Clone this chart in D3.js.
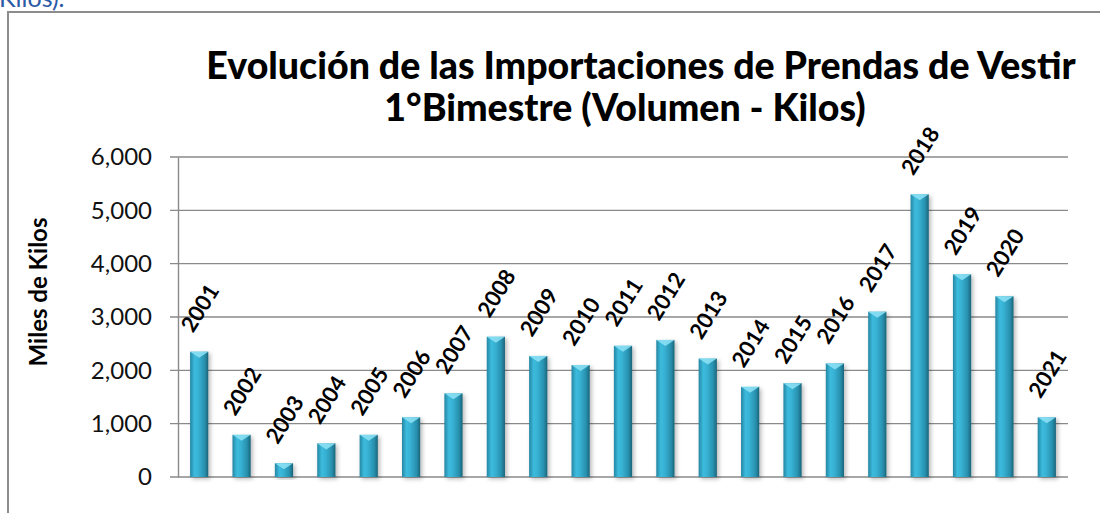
<!DOCTYPE html>
<html>
<head>
<meta charset="utf-8">
<script src="https://cdn.jsdelivr.net/npm/d3@7"></script>
<style>
  body { margin: 0; background: #fff; }
  svg { display: block; font-family: Lato, "Open Sans", sans-serif; }
</style>
</head>
<body>
<div id="chart"></div>
<script>
var YEARS = ["2001", "2002", "2003", "2004", "2005", "2006", "2007", "2008", "2009", "2010", "2011",
  "2012", "2013", "2014", "2015", "2016", "2017", "2018", "2019", "2020", "2021"];
var KILOS = [2350, 790, 260, 630, 790, 1120, 1570, 2630, 2270, 2100, 2460,
  2570, 2220, 1690, 1760, 2130, 3100, 5300, 3800, 3390, 1120];
var Y_TICKS = [0, 1000, 2000, 3000, 4000, 5000, 6000];
var TITLE_LINES = ["Evolución de las Importaciones de Prendas de Vestir", "1°Bimestre (Volumen - Kilos)"];
var Y_TITLE = "Miles de Kilos";

var W = 1100, H = 513;
var margin = { top: 157, right: 32, bottom: 36, left: 178 };
var width = W - margin.left - margin.right,
  height = H - margin.top - margin.bottom;

var svg = d3.select("#chart").append("svg").attr("width", W).attr("height", H);

var defs = svg.append("defs");
var grad = defs.append("linearGradient").attr("id", "barGrad")
  .attr("x1", "0%").attr("x2", "100%").attr("y1", "0%").attr("y2", "0%");
grad.append("stop").attr("offset", "0%").attr("stop-color", "#2586a3");
grad.append("stop").attr("offset", "25%").attr("stop-color", "#3cbbdd");
grad.append("stop").attr("offset", "45%").attr("stop-color", "#38b2d4");
grad.append("stop").attr("offset", "80%").attr("stop-color", "#2890ae");
grad.append("stop").attr("offset", "100%").attr("stop-color", "#1b6479");

var shadow = defs.append("filter").attr("id", "barShadow")
  .attr("x", "-40%").attr("y", "-10%").attr("width", "180%").attr("height", "130%");
shadow.append("feDropShadow").attr("dx", 2).attr("dy", 2).attr("stdDeviation", 2)
  .attr("flood-color", "#000").attr("flood-opacity", 0.28);

// stray caption from the page above the chart (cut off at the top, as in the source)
svg.append("text")
  .attr("x", -1).attr("y", 7)
  .attr("fill", "#2b5aa6")
  .style("font-size", "25px")
  .text("Kilos).");

// chart frame
svg.append("rect")
  .attr("x", 8).attr("y", 12)
  .attr("width", W + 20).attr("height", H + 20)
  .attr("fill", "none")
  .attr("stroke", "#8c8c8c")
  .attr("stroke-width", 2);

// title
var titleX = [641, 625], titleY = [79, 121];
svg.selectAll("text.title").data(TITLE_LINES).enter().append("text")
  .attr("class", "title")
  .attr("x", function (d, i) { return titleX[i]; })
  .attr("y", function (d, i) { return titleY[i]; })
  .attr("text-anchor", "middle")
  .style("font-size", "37.5px")
  .style("font-weight", "900")
  .text(function (d) { return d; });

var g = svg.append("g").attr("transform", "translate(" + margin.left + "," + margin.top + ")");

var x = d3.scaleBand().domain(YEARS).range([0, width]).paddingInner(0.57).paddingOuter(0.285);
var y = d3.scaleLinear().domain([0, 6000]).range([height, 0]);

// gridlines
g.append("g").attr("class", "grid")
  .selectAll("line").data(Y_TICKS).enter().append("line")
  .attr("x1", -8).attr("x2", width)
  .attr("y1", function (d) { return y(d); })
  .attr("y2", function (d) { return y(d); })
  .attr("stroke", "#8a8a8a")
  .attr("stroke-width", 1.4);

// y axis
var yAxis = g.append("g")
  .call(d3.axisLeft(y).tickValues(Y_TICKS).tickSize(0).tickPadding(26).tickFormat(d3.format(",")));
yAxis.select(".domain").attr("stroke", "#8a8a8a").attr("stroke-width", 1.4);
yAxis.selectAll("text").style("font-size", "24px").attr("fill", "#111")
  .style("font-family", "Lato, sans-serif");

// bars
var bars = g.append("g").attr("class", "bars")
  .selectAll("g").data(KILOS).enter().append("g")
  .attr("filter", "url(#barShadow)");

bars.append("rect")
  .attr("x", function (d, i) { return x(YEARS[i]); })
  .attr("y", function (d) { return y(d); })
  .attr("width", x.bandwidth())
  .attr("height", function (d) { return height - y(d); })
  .attr("fill", "url(#barGrad)");

// bevelled top of each bar
bars.append("path")
  .attr("d", function (d, i) {
    var x0 = x(YEARS[i]), bw = x.bandwidth(), t = y(d);
    return "M" + x0 + "," + t + "L" + (x0 + bw) + "," + t +
      "L" + (x0 + bw * 0.5) + "," + (t + 6) + "Z";
  })
  .attr("fill", "#8fe3f6")
  .attr("opacity", 0.85);

// year labels above bars
g.append("g").attr("class", "labels")
  .selectAll("text").data(KILOS).enter().append("text")
  .attr("transform", function (d, i) {
    return "translate(" + (x(YEARS[i]) + x.bandwidth() / 2) + "," + (y(d) - 44) + ") rotate(-58)";
  })
  .attr("text-anchor", "middle")
  .attr("dominant-baseline", "central")
  .style("font-size", "22px")
  .style("font-weight", "bold")
  .text(function (d, i) { return YEARS[i]; });

// y axis title
svg.append("text")
  .attr("transform", "translate(47,292) rotate(-90)")
  .attr("text-anchor", "middle")
  .style("font-size", "24px")
  .style("font-weight", "bold")
  .text(Y_TITLE);
</script>
</body>
</html>
